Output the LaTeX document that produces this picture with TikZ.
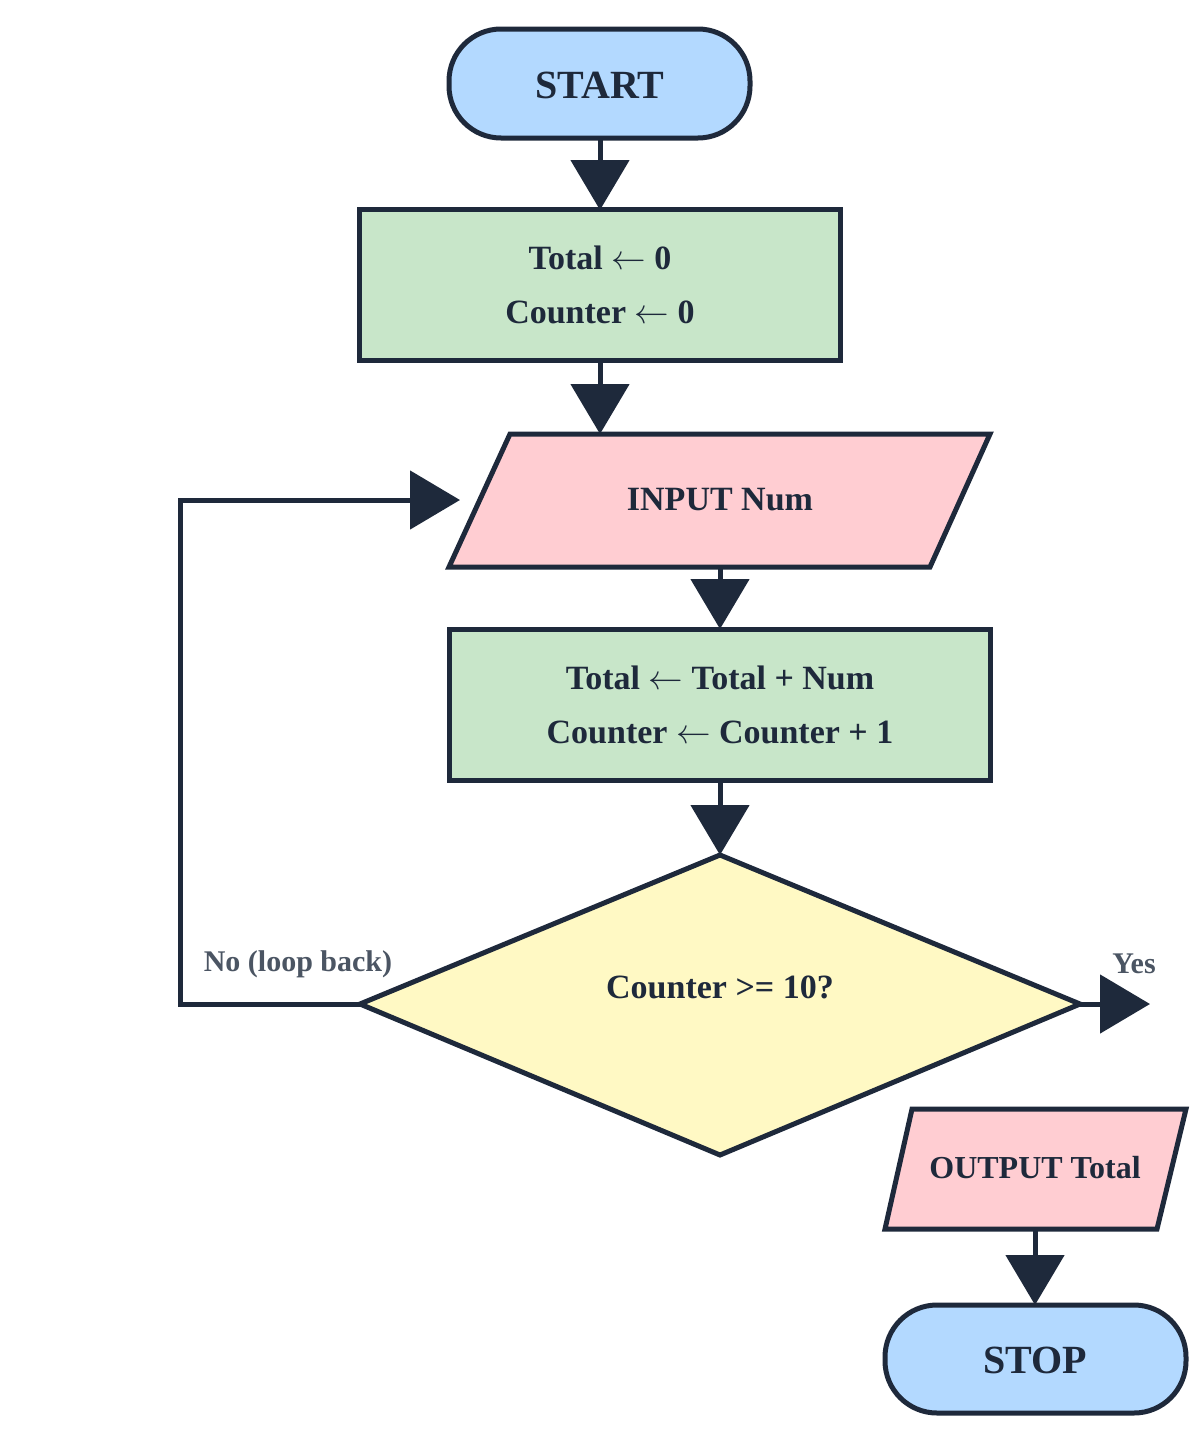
\documentclass[tikz,border=0pt]{standalone}
\usepackage{fontspec}
\setmainfont{Liberation Serif}
\usetikzlibrary{arrows.meta}
\definecolor{ink}{HTML}{1E293B}
\definecolor{cblue}{HTML}{B3D9FF}
\definecolor{cgreen}{HTML}{C8E6C9}
\definecolor{cpink}{HTML}{FFCDD2}
\definecolor{cyel}{HTML}{FFF9C4}
\definecolor{lbl}{HTML}{4B5563}
\begin{document}
\begin{tikzpicture}[x=0.5pt,y=-0.5pt,
  shp/.style={draw=ink,line width=2.5pt,line join=miter},
  txt/.style={text=ink,font=\bfseries\fontsize{17}{27}\selectfont,align=center},
  big/.style={text=ink,font=\bfseries\fontsize{20}{24}\selectfont},
  lab/.style={text=lbl,font=\bfseries\fontsize{15}{18}\selectfont},
  arr/.style={draw=ink,line width=2.5pt,-{Triangle[length=25pt,width=29pt]}}]
\useasboundingbox (0,0) rectangle (1200,1440);
% shapes
\draw[shp,fill=cblue,rounded corners=26pt] (449,29) rectangle (750,138);
\node[big] (start) at (600,85) {START};
\draw[shp,fill=cgreen] (359,209) rectangle (840,360);
\node[txt] (init) at (600,285) {Total $\leftarrow$ 0\\Counter $\leftarrow$ 0};
\draw[shp,fill=cpink] (510,434) -- (990,434) -- (930,567) -- (449,567) -- cycle;
\node[txt] (inp) at (720,500) {INPUT Num};
\draw[shp,fill=cgreen] (449,629) rectangle (990,780);
\node[txt] (upd) at (720,705) {Total $\leftarrow$ Total + Num\\Counter $\leftarrow$ Counter + 1};
\draw[shp,fill=cyel] (720,855) -- (1080,1004) -- (720,1155) -- (360,1004) -- cycle;
\node[txt] (dec) at (720,987) {Counter >= 10?};
\draw[shp,fill=cpink] (912,1109) -- (1186,1109) -- (1157,1229) -- (885,1229) -- cycle;
\node[txt,font=\bfseries\fontsize{16}{20}\selectfont] (out) at (1035,1168) {OUTPUT Total};
\draw[shp,fill=cblue,rounded corners=26pt] (885,1305) rectangle (1186,1413);
\node[big] (stop) at (1035,1360) {STOP};
% coordinates
\coordinate (a1) at (600,138); \coordinate (a2) at (600,210);
\coordinate (b1) at (600,360); \coordinate (b2) at (600,434);
\coordinate (c1) at (720,567); \coordinate (c2) at (720,629);
\coordinate (d1) at (720,780); \coordinate (d2) at (720,855);
\coordinate (dl) at (360,1004); \coordinate (dr) at (1080,1004);
\coordinate (ye) at (1150,1004); \coordinate (lb) at (180,1004);
\coordinate (lt) at (180,500); \coordinate (le) at (460,500);
\coordinate (o1) at (1035,1229); \coordinate (o2) at (1035,1305);
% connectors
\draw[arr] (a1) -- (a2);
\draw[arr] (b1) -- (b2);
\draw[arr] (c1) -- (c2);
\draw[arr] (d1) -- (d2);
\draw[arr] (dr) -- (ye);
\draw[arr] (dl) -- (lb) -- (lt) -- (le);
\draw[arr] (o1) -- (o2);
\node[lab] (yes) at (1134,964) {Yes};
\node[lab] (no) at (298,964) {No (loop back)};
\end{tikzpicture}
\end{document}
